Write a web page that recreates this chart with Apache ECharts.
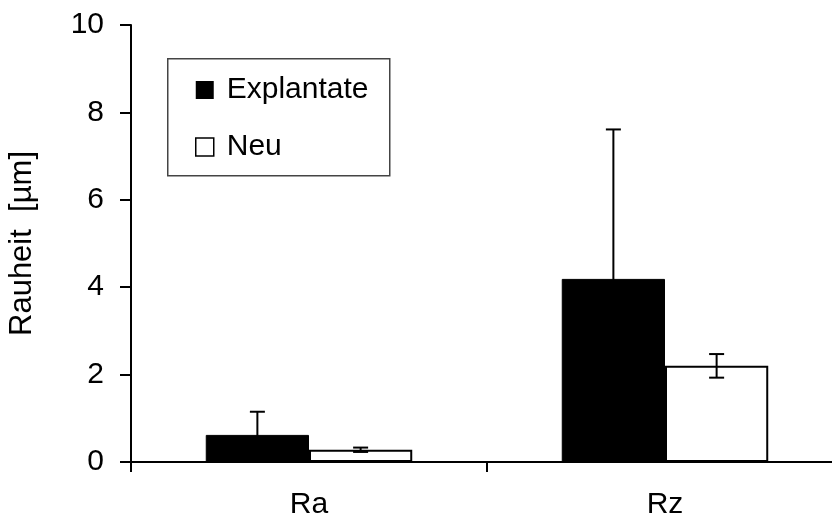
<!DOCTYPE html>
<html>
<head>
<meta charset="utf-8">
<script src="https://cdn.jsdelivr.net/npm/echarts@6/dist/echarts.min.js"></script>
<style>
  html, body { margin: 0; padding: 0; background: #fff; }
  #chart { width: 832px; height: 523px; }
</style>
</head>
<body>
<div id="chart"></div>
<script>
// Surface roughness parameters
const categories = ['Ra', 'Rz'];
const seriesNames = ['Explantate', 'Neu'];
// Mean roughness [µm]
const explantateMean = [0.62, 4.19];
const neuMean = [0.28, 2.20];
// Standard deviation [µm]
const explantateSd = [0.53, 3.42];
const neuSd = [0.05, 0.27];
const yTicks = { min: 0, max: 10, interval: 2 };

const FONT = '"Liberation Sans", Arial, sans-serif';
const BAR_FRACTION = 0.29; // share of category band taken by one bar

function errorBarRenderer(sign) {
  return function (params, api) {
    const cat = api.value(0);
    const mean = api.value(1);
    const sd = api.value(2);
    const band = api.size([1, 0])[0];
    const dx = sign * band * BAR_FRACTION / 2;
    const top = api.coord([cat, mean + sd]);
    const bot = api.coord([cat, mean - sd]);
    const x = top[0] + dx;
    const half = 7.5;
    const style = { stroke: '#000', lineWidth: 2 };
    return {
      type: 'group',
      children: [
        { type: 'line', shape: { x1: x, y1: top[1], x2: x, y2: bot[1] }, style },
        { type: 'line', shape: { x1: x - half, y1: top[1], x2: x + half, y2: top[1] }, style },
        { type: 'line', shape: { x1: x - half, y1: bot[1], x2: x + half, y2: bot[1] }, style }
      ]
    };
  };
}

const chart = echarts.init(document.getElementById('chart'), null, { renderer: 'canvas' });
chart.setOption({
  animation: false,
  backgroundColor: '#fff',
  textStyle: { fontFamily: FONT },
  grid: { left: 131, right: -11, top: 25, bottom: 61, containLabel: false, outerBoundsMode: 'none' },
  graphic: [{
    type: 'rect',
    left: 167, top: 58,
    shape: { width: 222, height: 117 },
    style: { fill: '#fff', stroke: '#444', lineWidth: 1.5 },
    z: 5
  }],
  legend: {
    orient: 'vertical',
    left: 195, top: 75,
    padding: 0,
    itemGap: 27,
    itemWidth: 18, itemHeight: 18,
    icon: 'rect',
    z: 10,
    textStyle: { fontFamily: FONT, fontSize: 30, color: '#000', padding: [0, 0, 0, 8] },
    data: [
      { name: seriesNames[0], itemStyle: { color: '#000', borderWidth: 0 } },
      { name: seriesNames[1], itemStyle: { color: '#fff', borderColor: '#000', borderWidth: 1.5 } }
    ]
  },
  xAxis: {
    type: 'category',
    data: categories,
    boundaryGap: true,
    axisLine: { lineStyle: { color: '#000', width: 2 } },
    axisTick: { show: true, length: 10, lineStyle: { color: '#000', width: 2 } },
    axisLabel: { color: '#000', fontSize: 30, fontFamily: FONT, margin: 28 },
    splitLine: { show: false }
  },
  yAxis: {
    type: 'value',
    min: yTicks.min, max: yTicks.max, interval: yTicks.interval,
    name: 'Rauheit  [µm]',
    nameLocation: 'middle',
    nameGap: 93,
    nameTextStyle: { color: '#000', fontSize: 31, fontFamily: FONT },
    axisLine: { show: true, lineStyle: { color: '#000', width: 2 } },
    axisTick: { show: true, length: 11, lineStyle: { color: '#000', width: 2 } },
    axisLabel: { color: '#000', fontSize: 30, fontFamily: FONT, margin: 27 },
    splitLine: { show: false }
  },
  series: [
    {
      name: seriesNames[0], type: 'bar', data: explantateMean,
      barWidth: (BAR_FRACTION * 100) + '%', barGap: '0%',
      itemStyle: { color: '#000', borderColor: '#000', borderWidth: 1 }
    },
    {
      name: seriesNames[1], type: 'bar', data: neuMean,
      barWidth: (BAR_FRACTION * 100) + '%', barGap: '0%',
      itemStyle: { color: '#fff', borderColor: '#000', borderWidth: 2 }
    },
    {
      type: 'custom', name: 'sd-explantate', z: 3, silent: true,
      renderItem: errorBarRenderer(-1),
      data: categories.map((c, i) => [i, explantateMean[i], explantateSd[i]])
    },
    {
      type: 'custom', name: 'sd-neu', z: 3, silent: true,
      renderItem: errorBarRenderer(1),
      data: categories.map((c, i) => [i, neuMean[i], neuSd[i]])
    }
  ]
});
</script>
</body>
</html>
